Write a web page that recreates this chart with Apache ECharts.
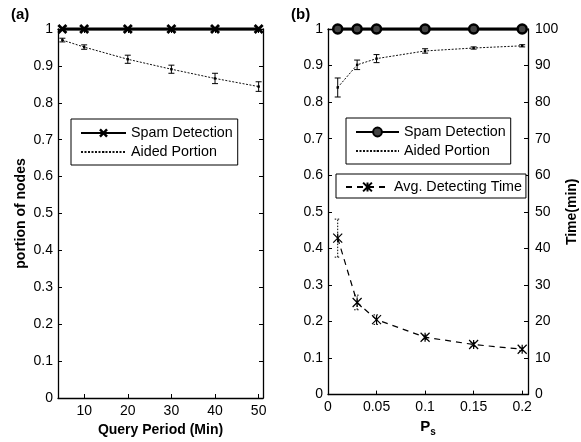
<!DOCTYPE html>
<html>
<head>
<meta charset="utf-8">
<script src="https://cdn.jsdelivr.net/npm/echarts@6/dist/echarts.min.js"></script>
<style>
  html, body { margin: 0; padding: 0; background: #fff; }
  #chart { width: 581px; height: 442px; }
</style>
</head>
<body>
<div id="chart"></div>
<script>
// Panel (a): effect of the query period
const queryPeriod = [5, 10, 20, 30, 40, 50];
const spamDetectA = [1, 1, 1, 1, 1, 1];
const aidedA = [0.970, 0.951, 0.918, 0.891, 0.866, 0.844];
const aidedAErr = [0.005, 0.006, 0.011, 0.011, 0.014, 0.013];
const queryTicks = [10, 20, 30, 40, 50];

// Panel (b): effect of P_s
const ps = [0.01, 0.03, 0.05, 0.1, 0.15, 0.2];
const spamDetectB = [1, 1, 1, 1, 1, 1];
const aidedB = [0.840, 0.902, 0.919, 0.940, 0.948, 0.954];
const aidedBErr = [0.026, 0.013, 0.011, 0.006, 0.003, 0.003];
const detectTime = [42.8, 25.2, 20.5, 15.7, 13.7, 12.4];
const detectTimeErr = [5.2, 2.0, 1.3, 0.6, 0.5, 0.4];
const psTicks = [0, 0.05, 0.1, 0.15, 0.2];

const legendNames = {
  spamA: 'Spam Detection',
  aidedA: 'Aided Portion',
  spamB: 'Spam Detection',
  aidedB: 'Aided Portion',
  timeB: 'Avg. Detecting Time'
};

const FONT = '"Liberation Sans", Arial, Helvetica, sans-serif';

// marker shapes
const crossMark = 'path://M0,2L2,0L5,3L8,0L10,2L7,5L10,8L8,10L5,7L2,10L0,8L3,5Z';
const starMark = 'path://M0,0L10,10M10,0L0,10M5,0L5,10';
const dotMark = 'path://M0,0L0,0M10,10L10,10M4,4L6,4L6,6L4,6Z';

const zip = (xs, ys) => xs.map((x, i) => [x, ys[i]]);

function errorBars(xs, ys, errs, xIdx, yIdx, dashed) {
  return {
    type: 'custom',
    xAxisIndex: xIdx,
    yAxisIndex: yIdx,
    clip: false,
    silent: true,
    z: 3,
    data: xs.map((x, i) => [x, ys[i] - errs[i], ys[i] + errs[i]]),
    encode: { x: 0, y: [1, 2] },
    renderItem(params, api) {
      const lo = api.coord([api.value(0), api.value(1)]);
      const hi = api.coord([api.value(0), api.value(2)]);
      const w = 3;
      const style = { stroke: '#000', lineWidth: 1, lineDash: dashed ? [1.5, 1.5] : null };
      return {
        type: 'group',
        children: [
          { type: 'line', shape: { x1: lo[0], y1: lo[1], x2: hi[0], y2: hi[1] }, style },
          { type: 'line', shape: { x1: lo[0] - w, y1: lo[1], x2: lo[0] + w, y2: lo[1] }, style },
          { type: 'line', shape: { x1: hi[0] - w, y1: hi[1], x2: hi[0] + w, y2: hi[1] }, style }
        ]
      };
    }
  };
}

const axisLine = { show: true, onZero: false, lineStyle: { color: '#000', width: 1.3 } };
const tick = { show: true, inside: true, length: 4, lineStyle: { color: '#000', width: 1 } };
const label = { color: '#000', fontSize: 14, fontFamily: FONT };
const nameStyle = { color: '#000', fontSize: 14, fontWeight: 'bold', fontFamily: FONT };

function xAxisPair(grid, min, max, ticks, name, nameTextStyle) {
  return [
    {
      gridIndex: grid, type: 'value', min, max, position: 'bottom',
      axisLine, splitLine: { show: false },
      axisTick: Object.assign({}, tick, { customValues: ticks }),
      axisLabel: Object.assign({}, label, { margin: 6, customValues: ticks }),
      name, nameLocation: 'middle', nameGap: 21, nameTextStyle
    },
    {
      gridIndex: grid, type: 'value', min, max, position: 'top',
      axisLine, splitLine: { show: false },
      axisTick: Object.assign({}, tick, { customValues: ticks }),
      axisLabel: { show: false }
    }
  ];
}

function yAxis(grid, pos, min, max, interval, showLabel, margin, name, gap) {
  const ax = {
    gridIndex: grid, type: 'value', position: pos, min, max, interval,
    axisLine, splitLine: { show: false }, axisTick: tick,
    axisLabel: showLabel ? Object.assign({}, label, { margin }) : { show: false }
  };
  if (name) {
    Object.assign(ax, { name, nameLocation: 'middle', nameGap: gap, nameRotate: 90, nameTextStyle: nameStyle });
  }
  return ax;
}

function legendBox(names, left, top, itemWidth, padding) {
  return {
    data: names, orient: 'vertical', left, top, itemWidth, itemHeight: 11, itemGap: 5,
    padding, borderColor: '#000', borderWidth: 1, backgroundColor: '#fff',
    textStyle: { color: '#000', fontSize: 14.3, fontFamily: FONT },
    formatter: n => legendNames[n],
    selectedMode: false
  };
}

const chart = echarts.init(document.getElementById('chart'), null, { renderer: 'canvas' });

chart.setOption({
  animation: false,
  backgroundColor: '#fff',
  grid: [
    { left: 58, right: 318, top: 29, bottom: 44 },
    { left: 328, right: 53, top: 29, bottom: 44 }
  ],
  xAxis: [
    ...xAxisPair(0, 4, 51, queryTicks, 'Query Period (Min)', nameStyle),
    ...xAxisPair(1, 0, 0.206, psTicks, '{p|P}{s|s}', {
      rich: {
        p: { fontSize: 15, fontWeight: 'bold', color: '#000', fontFamily: FONT },
        s: { fontSize: 10, fontWeight: 'bold', color: '#000', fontFamily: FONT, padding: [10, 0, 0, 0] }
      }
    })
  ],
  yAxis: [
    yAxis(0, 'left', 0, 1, 0.1, true, 5, 'portion of nodes', 30),
    yAxis(0, 'right', 0, 1, 0.1, false),
    yAxis(1, 'left', 0, 1, 0.1, true, 5),
    yAxis(1, 'right', 0, 100, 10, true, 7, 'Time(min)', 37)
  ],
  legend: [
    legendBox(['spamA', 'aidedA'], 71, 119, 45, [7, 5, 6, 9]),
    legendBox(['spamB', 'aidedB'], 346, 118, 43, [7, 5, 6, 9]),
    legendBox(['timeB'], 336, 174, 43, [6, 4, 4, 9])
  ],
  graphic: [
    { type: 'text', left: 11, top: 7, style: { text: '(a)', font: 'bold 15px ' + FONT, fill: '#000' } },
    { type: 'text', left: 291, top: 7, style: { text: '(b)', font: 'bold 15px ' + FONT, fill: '#000' } }
  ],
  series: [
    errorBars(queryPeriod, aidedA, aidedAErr, 0, 0, false),
    {
      name: 'aidedA', type: 'line', xAxisIndex: 0, yAxisIndex: 0,
      data: zip(queryPeriod, aidedA), symbol: dotMark, symbolSize: 12,
      lineStyle: { color: '#111', width: 1, type: [2, 1.5] },
      itemStyle: { color: '#000' }, z: 4
    },
    {
      name: 'spamA', type: 'line', xAxisIndex: 0, yAxisIndex: 0, clip: false,
      data: zip(queryPeriod, spamDetectA), symbol: crossMark, symbolSize: 10,
      lineStyle: { color: '#000', width: 3 }, itemStyle: { color: '#000' }, z: 5
    },
    errorBars(ps, aidedB, aidedBErr, 2, 2, false),
    {
      name: 'aidedB', type: 'line', xAxisIndex: 2, yAxisIndex: 2,
      data: zip(ps, aidedB), symbol: dotMark, symbolSize: 12,
      lineStyle: { color: '#111', width: 1, type: [2, 1.5] },
      itemStyle: { color: '#000' }, z: 4
    },
    {
      name: 'spamB', type: 'line', xAxisIndex: 2, yAxisIndex: 2, clip: false,
      data: zip(ps, spamDetectB), symbol: 'circle', symbolSize: 9,
      lineStyle: { color: '#000', width: 3 },
      itemStyle: { color: '#444', borderColor: '#000', borderWidth: 2.5 }, z: 5
    },
    errorBars(ps, detectTime, detectTimeErr, 2, 3, true),
    {
      name: 'timeB', type: 'line', xAxisIndex: 2, yAxisIndex: 3,
      data: zip(ps, detectTime), symbol: starMark, symbolSize: 9,
      lineStyle: { color: '#000', width: 1.2, type: [6, 5] },
      itemStyle: { color: '#000', borderColor: '#000', borderWidth: 1.2 }, z: 4
    }
  ]
});
</script>
</body>
</html>
